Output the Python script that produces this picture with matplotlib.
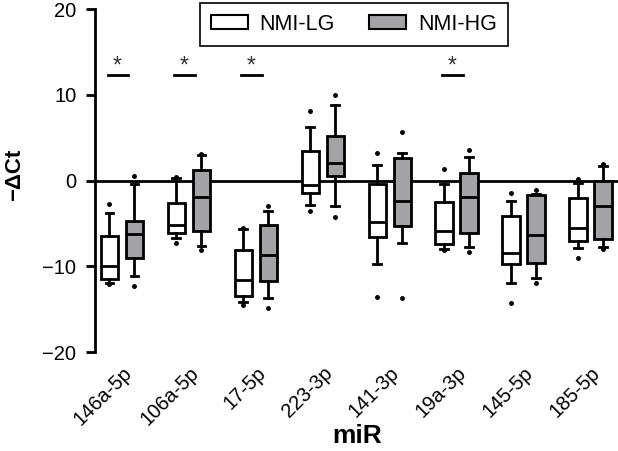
import matplotlib
matplotlib.use("Agg")
import matplotlib.pyplot as plt
from matplotlib.patches import Patch

plt.rcParams['font.family'] = ['Liberation Sans', 'DejaVu Sans']

mirs = ["146a-5p", "106a-5p", "17-5p", "223-3p", "141-3p", "19a-3p", "145-5p", "185-5p"]

# NMI-LG
lg_med = [-10.0, -5.15, -11.65, -0.47, -4.8, -5.9, -8.4, -5.5]
lg_q1 = [-11.5, -6.1, -13.5, -1.45, -6.6, -7.4, -9.75, -7.05]
lg_q3 = [-6.5, -2.65, -8.1, 3.5, -0.4, -2.45, -4.1, -2.07]
lg_lo = [-12.0, -6.7, -14.2, -2.9, -9.7, -8.0, -12.0, -7.9]
lg_hi = [-3.8, 0.3, -5.7, 6.2, 1.8, -0.43, -2.34, -0.3]
lg_out = [[-2.7, -12.1], [0.4, -7.25], [-5.5, -14.5], [8.07, -3.6],
          [3.2, -13.6], [1.37, -8.1], [-1.5, -14.3], [0.15, -9.0]]

# NMI-HG
hg_med = [-6.2, -1.95, -8.7, 2.0, -2.4, -1.87, -6.35, -3.0]
hg_q1 = [-9.0, -5.9, -11.7, 0.5, -5.35, -6.1, -9.6, -6.8]
hg_q3 = [-4.7, 1.25, -5.15, 5.15, 2.65, 0.85, -1.67, 0.0]
hg_lo = [-11.1, -7.6, -13.7, -3.0, -7.25, -7.8, -11.4, -7.8]
hg_hi = [-0.4, 3.0, -3.5, 8.85, 3.2, 2.7, -1.55, 1.75]
hg_out = [[0.47, -12.3], [3.05, -8.1], [-3.0, -14.9], [10.0, -4.3],
          [5.6, -13.7], [3.6, -8.3], [-1.1, -11.9], [1.95, 1.85, -8.0]]

# groups with significant difference
sig = [0, 1, 2, 5]

lg_color = "white"
hg_color = "#a3a3a6"


def make_stats(med, q1, q3, lo, hi, out):
    return [dict(med=med[i], q1=q1[i], q3=q3[i], whislo=lo[i], whishi=hi[i], fliers=out[i])
            for i in range(len(med))]


fig = plt.figure(figsize=(6.18, 4.51), dpi=100)
ax = fig.add_axes([0.154, 0.2195, 0.846, 0.7605])

off = 0.187
w = 0.26
x = list(range(len(mirs)))
props = dict(
    showfliers=True, widths=w, patch_artist=True,
    boxprops=dict(edgecolor="black", linewidth=2),
    medianprops=dict(color="black", linewidth=2),
    whiskerprops=dict(color="black", linewidth=2),
    capprops=dict(color="black", linewidth=2),
    flierprops=dict(marker="o", markersize=2.5, markerfacecolor="black", markeredgecolor="black"),
)
b1 = ax.bxp(make_stats(lg_med, lg_q1, lg_q3, lg_lo, lg_hi, lg_out),
            positions=[i - off for i in x], **props)
b2 = ax.bxp(make_stats(hg_med, hg_q1, hg_q3, hg_lo, hg_hi, hg_out),
            positions=[i + off for i in x], **props)
for p in b1["boxes"]:
    p.set_facecolor(lg_color)
for p in b2["boxes"]:
    p.set_facecolor(hg_color)
for c in b1["caps"] + b2["caps"]:
    xd = c.get_xdata()
    m = (xd[0] + xd[1]) / 2
    c.set_xdata([m - 0.058, m + 0.058])

ax.axhline(0, color="black", linewidth=2, zorder=0)

for i in sig:
    ax.plot([i - 0.215, i + 0.095], [12.3, 12.3], color="black", linewidth=2)
    ax.text(i - 0.065, 12.6, "*", ha="center", va="baseline", fontsize=16.5, color="#333333")

ax.set_xlim(-0.4, 7.41)
ax.set_ylim(-20, 20)
ax.set_yticks([-20, -10, 0, 10, 20])
ax.set_yticklabels(["\u221220", "\u221210", "0", "10", "20"])
ax.set_xticks(x)
ax.set_xticklabels(mirs, rotation=45, ha="right", rotation_mode="anchor")
ax.tick_params(axis="x", length=0, pad=8, labelsize=14.5)
ax.tick_params(axis="y", length=6.5, width=2, labelsize=14.5, pad=7)
for s in ["top", "right", "bottom"]:
    ax.spines[s].set_visible(False)
ax.spines["left"].set_linewidth(2)

ax.set_xlabel("miR", fontsize=19, fontweight="bold", va="top")
ax.xaxis.set_label_coords(0.501, -0.21)
ax.set_ylabel("\u2212\u0394Ct", fontsize=16, fontweight="bold")
ax.yaxis.set_label_coords(-0.135, 0.516)

handles = [Patch(facecolor=lg_color, edgecolor="black", linewidth=1.5, label="NMI-LG"),
           Patch(facecolor=hg_color, edgecolor="black", linewidth=1.5, label="NMI-HG")]
leg = ax.legend(handles=handles, loc="upper center", bbox_to_anchor=(0.495, 1.0175), ncol=2,
                fontsize=15.5, fancybox=False, edgecolor="black", framealpha=1,
                handlelength=1.72, handleheight=0.6, handletextpad=0.56,
                columnspacing=1.6, borderpad=0.5, borderaxespad=0)
leg.get_frame().set_linewidth(1.2)

fig.savefig("out.png", dpi=100)
